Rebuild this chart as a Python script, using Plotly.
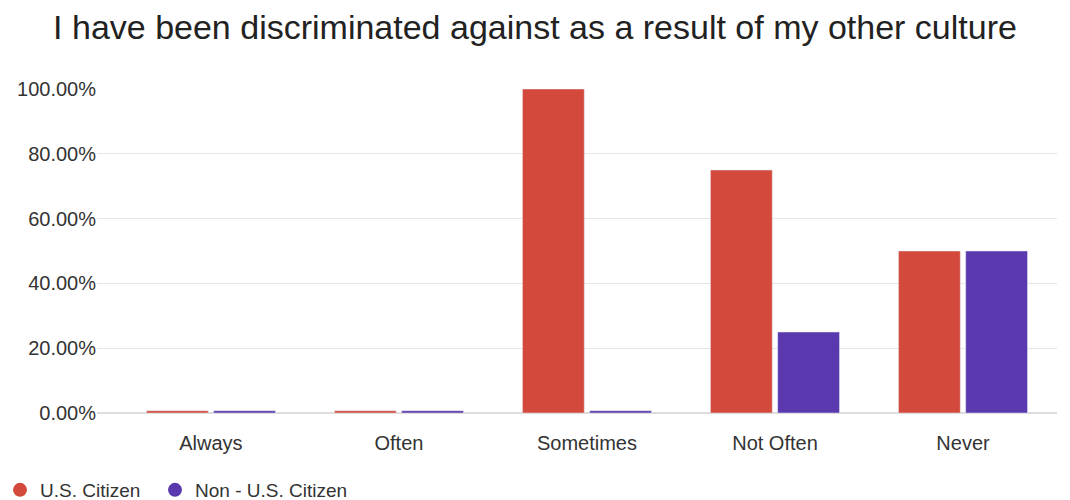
import plotly.graph_objects as go

categories = ["Always", "Often", "Sometimes", "Not Often", "Never"]
us_citizen = [0.7, 0.7, 100, 75, 50]
non_us_citizen = [0.7, 0.7, 0.7, 25, 50]
tick_vals = [0, 20, 40, 60, 80, 100]
tick_text = ["0.00%", "20.00%", "40.00%", "60.00%", "80.00%", "100.00%"]

RED = "#D34A3D"
PURPLE = "#5A38AD"
FONT = "Liberation Sans, Arial, Helvetica, sans-serif"

fig = go.Figure()
fig.add_trace(go.Bar(x=categories, y=us_citizen, name="U.S. Citizen",
                     marker_color=RED, showlegend=False))
fig.add_trace(go.Bar(x=categories, y=non_us_citizen, name="Non - U.S. Citizen",
                     marker_color=PURPLE, showlegend=False))
# legend entries with circle markers
fig.add_trace(go.Scatter(x=[None], y=[None], mode="markers", name="U.S. Citizen",
                         marker=dict(color=RED, size=14, symbol="circle"),
                         legend="legend"))
fig.add_trace(go.Scatter(x=[None], y=[None], mode="markers", name="Non - U.S. Citizen",
                         marker=dict(color=PURPLE, size=14, symbol="circle"),
                         legend="legend2"))

legend_common = dict(orientation="h", xref="container", xanchor="left",
                     y=0.02, yref="container", yanchor="middle",
                     font=dict(family=FONT, size=19, color="#333333"),
                     itemwidth=30, bgcolor="rgba(0,0,0,0)")

fig.update_layout(
    width=1070, height=500,
    margin=dict(l=97, r=13, t=89, b=87, autoexpand=False),
    paper_bgcolor="white", plot_bgcolor="white",
    font=dict(family=FONT, size=20, color="#333333"),
    title=dict(text="I have been discriminated against as a result of my other culture",
               x=0.5, xanchor="center", y=0.946, yanchor="middle",
               font=dict(family=FONT, size=34, color="#222222")),
    barmode="group", bargap=0.285, bargroupgap=0.08,
    showlegend=True,
    legend=dict(x=0.0, **legend_common),
    legend2=dict(x=155 / 1070, **legend_common),
)
fig.update_xaxes(range=[-0.606, 4.5], showgrid=False, showline=False, zeroline=False,
                 ticks="outside", ticklen=12, tickcolor="rgba(0,0,0,0)",
                 tickfont=dict(size=20, color="#333333"), fixedrange=True, automargin=False)
fig.update_yaxes(range=[0, 100], tickvals=tick_vals, ticktext=tick_text,
                 showgrid=True, gridcolor="#E6E6E6", gridwidth=1,
                 zeroline=True, zerolinecolor="#DDDDDD", zerolinewidth=1.5,
                 showline=False, ticks="", ticklen=0,
                 tickfont=dict(size=20, color="#333333"), fixedrange=True, automargin=False)

fig.write_html("out.html")
